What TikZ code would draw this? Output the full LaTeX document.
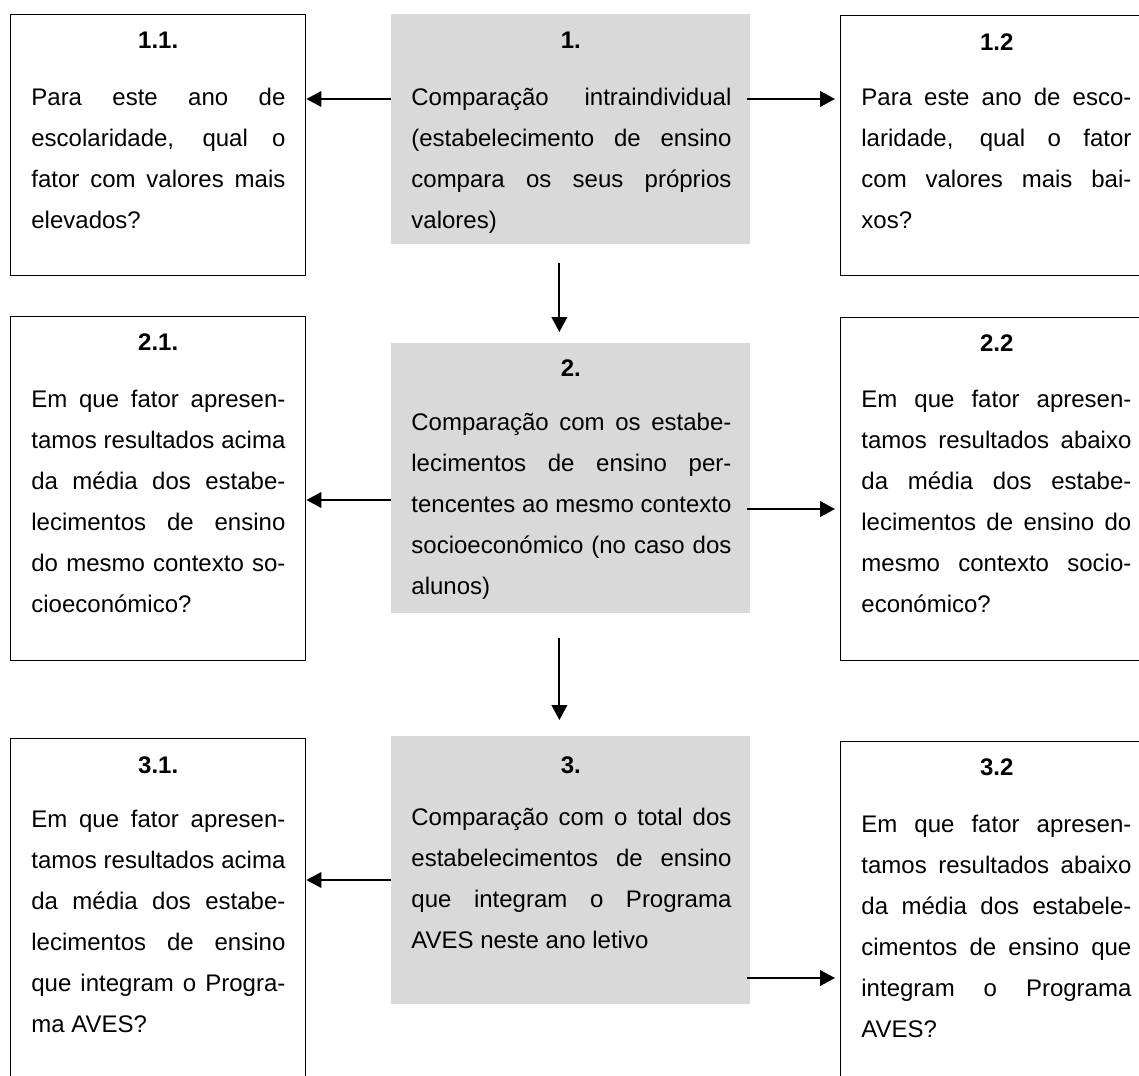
\documentclass[tikz,border=0pt]{standalone}
\usepackage{fontspec}
\setmainfont{Liberation Sans}
\usetikzlibrary{positioning,calc}
\usetikzlibrary{arrows.meta}
\definecolor{CoreGray}{RGB}{217,217,217}
\tikzset{
	side/.style={draw=black,line width=0.7pt,inner sep=0pt,anchor=north west},
	core/.style={fill=CoreGray,inner sep=0pt,anchor=north west},
	head/.style={anchor=base,inner sep=0pt,font=\bfseries\fontsize{12}{20.5}\selectfont},
	body/.style={anchor=base west,inner sep=0pt,align=justify,font=\fontsize{12}{20.5}\selectfont},
	link/.style={draw=black,line width=1pt,-{Triangle[length=7.5pt,width=7.8pt]}},
	linkr/.style={link,shorten <=-2pt,shorten >=2.5pt},
}

\begin{document}
\begin{tikzpicture}[x=0.5pt,y=-0.5pt]
	\path[use as bounding box,clip] (0,0) rectangle (1139,1075);
	\foreach \n/\xa/\ya/\xb/\yb/\s in {b11/10/14/305/275/side,g1/391/14/750/244/core,b12/840/15/1152/275/side,
		b21/10/316/305/660/side,g2/391/343/750/613/core,b22/840/317/1152/660/side,
		b31/10/738/305/1110/side,g3/391/736/750/1004/core,b32/840/741/1152/1110/side}
	\node[\s,minimum width={(\xb-\xa)*0.5pt},minimum height={(\yb-\ya)*0.5pt}] (\n) at (\xa,\ya) {};
	\foreach \n/\y/\t in {b11/48.5/1.1.,g1/48.5/1.,b12/50.5/1.2,b21/350.5/2.1.,g2/376.5/2.,b22/351.5/2.2,
		b31/773.5/3.1.,g3/773.5/3.,b32/775.5/3.2}
	\node[head] (h\n) at (\n.north |- 0,\y) {\t};
	\node[body,text width=127pt] (t11) at (31,106) {Para este ano de\linebreak escolaridade, qual o\linebreak fator com valores mais\linebreak elevados?};
	\node[body,text width=160pt] (t1) at (411,106) {Comparação intraindividual\linebreak (estabelecimento de ensino\linebreak compara os seus próprios\linebreak valores)};
	\node[body,text width=135pt] (t12) at (861,106) {Para este ano de esco-\linebreak laridade, qual o fator\linebreak com valores mais bai-\linebreak xos?};
	\node[body,text width=127pt] (t21) at (31,407) {Em que fator apresen-\linebreak tamos resultados acima\linebreak da média dos estabe-\linebreak lecimentos de ensino\linebreak do mesmo contexto so-\linebreak cioeconómico?};
	\node[body,text width=160pt] (t2) at (411,430) {Comparação com os estabe-\linebreak lecimentos de ensino per-\linebreak tencentes ao mesmo contexto\linebreak socioeconómico (no caso dos\linebreak alunos)};
	\node[body,text width=135pt] (t22) at (861,407) {Em que fator apresen-\linebreak tamos resultados abaixo\linebreak da média dos estabe-\linebreak lecimentos de ensino do\linebreak mesmo contexto socio-\linebreak económico?};
	\node[body,text width=127pt] (t31) at (31,827) {Em que fator apresen-\linebreak tamos resultados acima\linebreak da média dos estabe-\linebreak lecimentos de ensino\linebreak que integram o Progra-\linebreak ma AVES?};
	\node[body,text width=160pt] (t3) at (411,825) {Comparação com o total dos\linebreak estabelecimentos de ensino\linebreak que integram o Programa\linebreak AVES neste ano letivo};
	\node[body,text width=135pt] (t32) at (861,832) {Em que fator apresen-\linebreak tamos resultados abaixo\linebreak da média dos estabele-\linebreak cimentos de ensino que\linebreak integram o Programa\linebreak AVES?};
	\coordinate (l1) at (0,99);
	\coordinate (l2) at (0,500);
	\coordinate (l3) at (0,880);
	\coordinate (r1) at (0,99);
	\coordinate (r2) at (0,509);
	\coordinate (r3) at (0,978);
	\foreach \i in {1,2,3}{
		\draw[link] (g\i.west |- l\i) -- (b\i1.east |- l\i);
		\draw[linkr] (g\i.east |- r\i) -- (b\i2.west |- r\i);
	}
	\draw[link] ([shift={(-11.5,18)}]g1.south) -- ([shift={(-11.5,-11)}]g2.north);
	\draw[link] ([shift={(-11.5,24)}]g2.south) -- ([shift={(-11.5,-16)}]g3.north);
\end{tikzpicture}
\end{document}
